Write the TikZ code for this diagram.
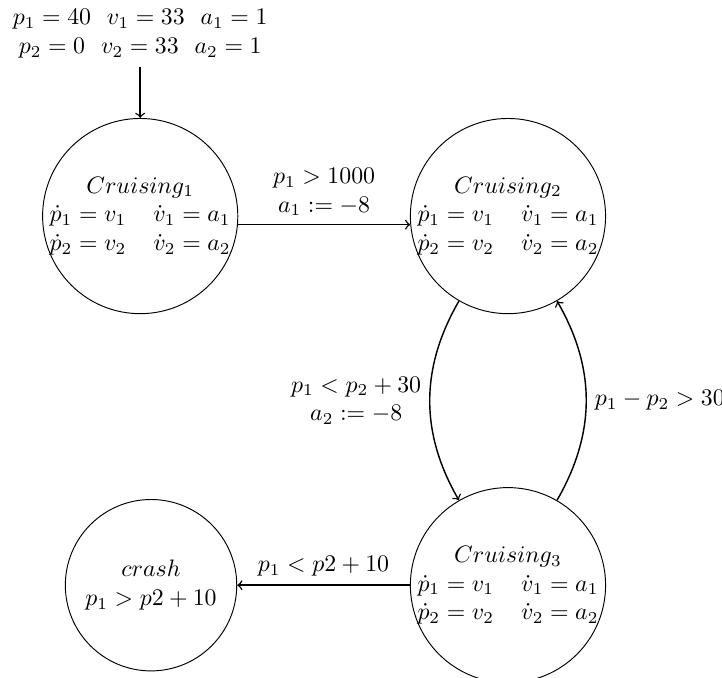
\documentclass[tikz,border=0pt]{standalone}
\usepackage{amsmath,amssymb}
\begin{document}
\begin{tikzpicture}[mode/.style={circle,draw,inner sep=-1pt,minimum size=82pt,align=center},
  trans/.style={->,semithick}]
\useasboundingbox (0,0) rectangle (10.66,-10.01);
\node[align=center] (init) at (2.07,-0.50) {$p_1 = 40\ \ v_1 = 33\ \ a_1 = 1$\\ $p_2 = 0\ \ v_2 = 33\ \ a_2 = 1$};

\node[mode] (c1) at (2.07,-3.19) {$Cruising_1$\\ $\dot{p}_1 = v_1\hspace{4mm}\dot{v}_1 = a_1$\\ $\dot{p}_2 = v_2\hspace{4mm}\dot{v}_2 = a_2$};
\node[mode] (c2) at (7.50,-3.19) {$Cruising_2$\\ $\dot{p}_1 = v_1\hspace{4mm}\dot{v}_1 = a_1$\\ $\dot{p}_2 = v_2\hspace{4mm}\dot{v}_2 = a_2$};
\node[mode] (c3) at (7.50,-8.64) {$Cruising_3$\\ $\dot{p}_1 = v_1\hspace{4mm}\dot{v}_1 = a_1$\\ $\dot{p}_2 = v_2\hspace{4mm}\dot{v}_2 = a_2$};
\node[mode,minimum size=72pt] (crash) at (2.23,-8.64) {$crash$\\ $p_1 > p2 + 10$};

\path[trans] (init) edge (c1);
\path[trans] (c1.-5) edge node[above,align=center]{$p_1 > 1000$\\ $a_1 := -8$} (c2.185);
\path[trans] (c2) edge[bend right=30] node[left,align=center]{$p_1 < p_2 + 30$\\ $a_2 := -8$} (c3);
\path[trans] (c3) edge[bend right=30] node[right]{$p_1 - p_2 > 30$} (c2);
\path[trans] (c3) edge node[above]{$p_1 < p2 + 10$} (crash);
\end{tikzpicture}
\end{document}
